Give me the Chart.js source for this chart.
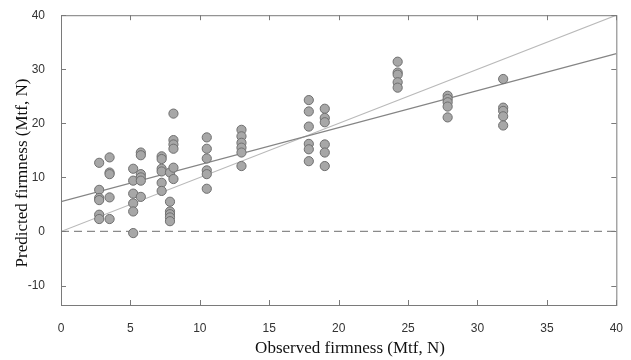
<!DOCTYPE html>
<html>
<head>
<meta charset="utf-8">
<script src="https://cdn.jsdelivr.net/npm/chart.js@4.4.1/dist/chart.umd.min.js"></script>
<style>
  html, body { margin: 0; padding: 0; background: #fff; }
  #wrap { width: 631px; height: 360px; }
</style>
</head>
<body>
<div id="wrap"><canvas id="firmness"></canvas></div>
<script>
// ── Data ─────────────────────────────────────────────────
const obsX = [
  2.75, 2.75, 2.75, 2.75, 2.75, 2.75,
  3.5, 3.5, 3.5, 3.5, 3.5,
  5.2, 5.2, 5.2, 5.2, 5.2, 5.2,
  5.75, 5.75, 5.75, 5.75, 5.75, 5.75,
  7.25, 7.25, 7.25, 7.25, 7.25, 7.25,
  7.85, 7.85, 7.85, 7.85, 7.85, 7.85,
  8.1, 8.1, 8.1, 8.1, 8.1, 8.1,
  10.5, 10.5, 10.5, 10.5, 10.5, 10.5,
  13, 13, 13, 13, 13, 13,
  17.85, 17.85, 17.85, 17.85, 17.85, 17.85,
  19, 19, 19, 19, 19, 19,
  24.25, 24.25, 24.25, 24.25, 24.25,
  27.85, 27.85, 27.85, 27.85, 27.85,
  31.85, 31.85, 31.85, 31.85, 31.85
];
const predY = [
  12.7, 7.7, 6.2, 5.8, 3.1, 2.3,
  13.7, 10.9, 10.6, 6.3, 2.3,
  11.6, 9.4, 7.0, 5.2, 3.7, -0.3,
  14.6, 14.1, 10.6, 10.0, 9.4, 6.4,
  13.9, 13.4, 11.6, 11.1, 9.0, 7.5,
  10.9, 5.5, 3.7, 3.2, 2.6, 1.9,
  21.8, 16.9, 16.1, 15.3, 11.8, 9.7,
  17.4, 15.3, 13.5, 11.3, 10.6, 7.9,
  18.8, 17.6, 16.4, 15.5, 14.6, 12.1,
  24.3, 22.2, 19.4, 16.2, 15.2, 13.0,
  22.7, 21.0, 20.2, 16.1, 14.6, 12.1,
  31.4, 29.4, 29.0, 27.6, 26.6,
  25.1, 24.5, 23.9, 23.1, 21.1,
  28.2, 22.9, 22.3, 21.3, 19.6
];
const lineX  = [0, 40];
const fitY   = [5.5, 32.9];   // regression line
const idealY = [0, 40];       // 1:1 line
const zeroY  = [0, 0];        // dashed reference
const xTicks = [0, 5, 10, 15, 20, 25, 30, 35, 40];
const yTicks = [-10, 0, 10, 20, 30, 40];
const xTitle = 'Observed firmness (Mtf, N)';
const yTitle = 'Predicted firmness (Mtf, N)';

// ── Palette ──────────────────────────────────────────────
const colors = {
  pointFill : '#a7a7a7',
  pointEdge : '#6f6f6f',
  fit       : '#858585',
  ideal     : '#b9b9b9',
  zero      : '#8a8a8a',
  frame     : '#7a7a7a',
  tick      : '#333333',
  title     : '#111111',
};

const pair = (xs, ys) => xs.map((x, i) => ({ x: x, y: ys[i] }));

// frame + inward tick marks on all four sides, axis titles
const framePlugin = {
  id: 'frame',
  afterDraw(chart) {
    const { ctx, chartArea: a, scales } = chart;
    const len = 5;
    ctx.save();
    ctx.strokeStyle = colors.frame;
    ctx.lineWidth = 1;
    ctx.strokeRect(a.left + 0.5, a.top + 0.5, a.right - a.left, a.bottom - a.top);
    ctx.beginPath();
    xTicks.forEach((v) => {
      const px = Math.round(scales.x.getPixelForValue(v)) + 0.5;
      ctx.moveTo(px, a.bottom); ctx.lineTo(px, a.bottom - len);
      ctx.moveTo(px, a.top);    ctx.lineTo(px, a.top + len);
    });
    yTicks.forEach((v) => {
      const py = Math.round(scales.y.getPixelForValue(v)) + 0.5;
      ctx.moveTo(a.left, py);  ctx.lineTo(a.left + len, py);
      ctx.moveTo(a.right, py); ctx.lineTo(a.right - len, py);
    });
    ctx.stroke();

    // titles — sit slightly off the plot centre, as in the original
    ctx.fillStyle = colors.title;
    ctx.font = "17px 'Liberation Serif', 'Times New Roman', serif";
    ctx.textAlign = 'center';
    ctx.textBaseline = 'middle';
    ctx.fillText(xTitle, 350, 349);
    ctx.translate(23, 173);
    ctx.rotate(-Math.PI / 2);
    ctx.fillText(yTitle, 0, 0);
    ctx.restore();
  },
};

const tickFont = { family: "'Liberation Sans Narrow', 'Liberation Sans', Arial, sans-serif", size: 12 };

new Chart(document.getElementById('firmness'), {
  data: {
    datasets: [
      {
        type: 'scatter',
        data: pair(obsX, predY),
        backgroundColor: colors.pointFill,
        borderColor: colors.pointEdge,
        borderWidth: 1,
        pointRadius: 4.6,
        order: 0,
      },
      {
        type: 'line',
        data: pair(lineX, fitY),
        borderColor: colors.fit,
        borderWidth: 1.2,
        pointRadius: 0,
        order: 1,
      },
      {
        type: 'line',
        data: pair(lineX, idealY),
        borderColor: colors.ideal,
        borderWidth: 1.1,
        pointRadius: 0,
        order: 2,
      },
      {
        type: 'line',
        data: pair(lineX, zeroY),
        borderColor: colors.zero,
        borderWidth: 1.2,
        borderDash: [8, 5],
        pointRadius: 0,
        order: 3,
      },
    ],
  },
  options: {
    responsive: true,
    maintainAspectRatio: false,
    animation: false,
    layout: { padding: { left: 0, right: 13, top: 13, bottom: 0 } },
    plugins: {
      legend: { display: false },
      tooltip: { enabled: false },
    },
    scales: {
      x: {
        type: 'linear',
        min: 0,
        max: 40,
        grid: { display: false },
        border: { display: false },
        afterBuildTicks: (s) => { s.ticks = xTicks.map((v) => ({ value: v })); },
        afterFit: (s) => { s.height = 55; },
        ticks: { color: colors.tick, font: tickFont, padding: 8, maxRotation: 0 },
      },
      y: {
        type: 'linear',
        min: -13.6,
        max: 40,
        grid: { display: false },
        border: { display: false },
        afterBuildTicks: (s) => { s.ticks = yTicks.map((v) => ({ value: v })); },
        afterFit: (s) => { s.width = 61; },
        ticks: { color: colors.tick, font: tickFont, padding: 8 },
      },
    },
  },
  plugins: [framePlugin],
});
</script>
</body>
</html>
